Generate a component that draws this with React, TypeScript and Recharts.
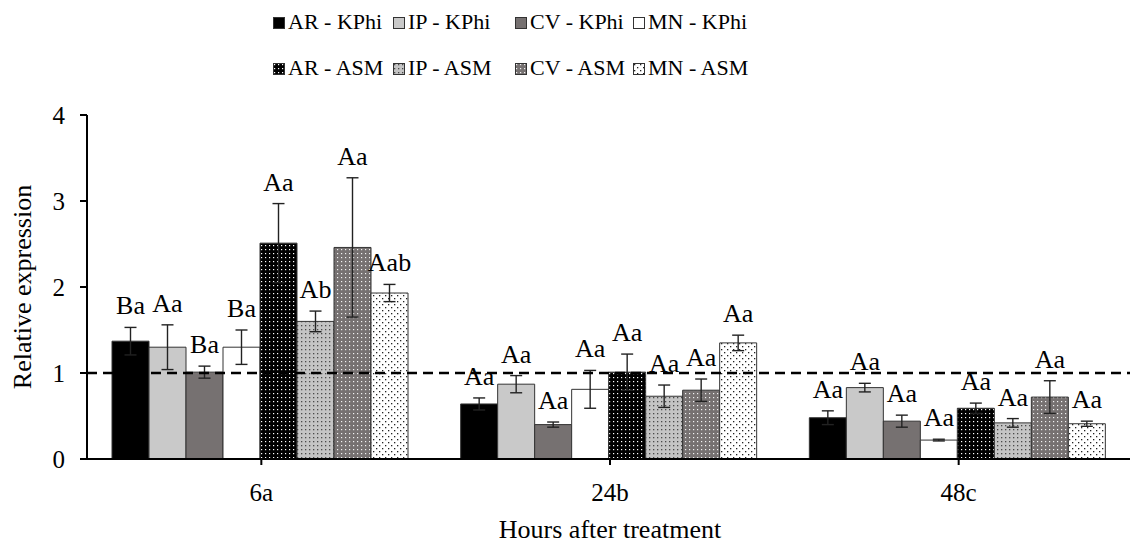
import React from 'react';
import { BarChart, Bar, XAxis, YAxis, ErrorBar, ReferenceLine, LabelList } from 'recharts';

// Sampling times after treatment
const hours = ['6a', '24b', '48c'];

// Mean relative expression and standard error per treatment
const arKphi = [1.37, 0.64, 0.48];
const arKphiErr = [0.16, 0.07, 0.08];
const ipKphi = [1.3, 0.87, 0.83];
const ipKphiErr = [0.26, 0.1, 0.05];
const cvKphi = [1.01, 0.4, 0.44];
const cvKphiErr = [0.07, 0.03, 0.07];
const mnKphi = [1.3, 0.81, 0.22];
const mnKphiErr = [0.2, 0.22, 0.01];
const arAsm = [2.51, 1.01, 0.59];
const arAsmErr = [0.46, 0.21, 0.06];
const ipAsm = [1.6, 0.73, 0.42];
const ipAsmErr = [0.12, 0.13, 0.05];
const cvAsm = [2.46, 0.8, 0.72];
const cvAsmErr = [0.81, 0.13, 0.19];
const mnAsm = [1.93, 1.35, 0.41];
const mnAsmErr = [0.1, 0.09, 0.03];

// Significance letters above each bar
const arKphiLetters = ['Ba', 'Aa', 'Aa'];
const ipKphiLetters = ['Aa', 'Aa', 'Aa'];
const cvKphiLetters = ['Ba', 'Aa', 'Aa'];
const mnKphiLetters = ['Ba', 'Aa', 'Aa'];
const arAsmLetters = ['Aa', 'Aa', 'Aa'];
const ipAsmLetters = ['Ab', 'Aa', 'Aa'];
const cvAsmLetters = ['Aa', 'Aa', 'Aa'];
const mnAsmLetters = ['Aab', 'Aa', 'Aa'];

const yTicks = [0, 1, 2, 3, 4];

const FONT = '"Liberation Serif", "Times New Roman", serif';

type Series = {
  key: string;
  name: string;
  values: number[];
  errors: number[];
  letters: string[];
  fill: string;
};

const series: Series[] = [
  { key: 'arKphi', name: 'AR - KPhi', values: arKphi, errors: arKphiErr, letters: arKphiLetters, fill: '#000000' },
  { key: 'ipKphi', name: 'IP - KPhi', values: ipKphi, errors: ipKphiErr, letters: ipKphiLetters, fill: '#c9c9c9' },
  { key: 'cvKphi', name: 'CV - KPhi', values: cvKphi, errors: cvKphiErr, letters: cvKphiLetters, fill: '#767171' },
  { key: 'mnKphi', name: 'MN - KPhi', values: mnKphi, errors: mnKphiErr, letters: mnKphiLetters, fill: '#ffffff' },
  { key: 'arAsm', name: 'AR - ASM', values: arAsm, errors: arAsmErr, letters: arAsmLetters, fill: 'url(#dotsAR)' },
  { key: 'ipAsm', name: 'IP - ASM', values: ipAsm, errors: ipAsmErr, letters: ipAsmLetters, fill: 'url(#dotsIP)' },
  { key: 'cvAsm', name: 'CV - ASM', values: cvAsm, errors: cvAsmErr, letters: cvAsmLetters, fill: 'url(#dotsCV)' },
  { key: 'mnAsm', name: 'MN - ASM', values: mnAsm, errors: mnAsmErr, letters: mnAsmLetters, fill: 'url(#dotsMN)' },
];

const data = hours.map((hour, i) => {
  const row: Record<string, string | number> = { hour };
  series.forEach((s) => {
    row[s.key] = s.values[i];
    row[`${s.key}Err`] = s.errors[i];
    row[`${s.key}Letter`] = s.letters[i];
  });
  return row;
});

// Letter placed just above the upper whisker of the bar's error bar
const letterLabel = (s: Series) => (props: any) => {
  const vb = props.viewBox ?? props;
  const idx = props.index ?? 0;
  const v = s.values[idx];
  const e = s.errors[idx];
  const pxPerUnit = vb.height / v;
  const whiskerTop = vb.y - e * pxPerUnit;
  return (
    <text
      x={vb.x + vb.width / 2}
      y={whiskerTop - 13}
      textAnchor="middle"
      fontSize={26}
      fontFamily={FONT}
      fill="#000"
    >
      {props.value}
    </text>
  );
};

const PatternDefs = () => (
  <defs>
    <pattern id="dotsAR" width="4" height="4" patternUnits="userSpaceOnUse">
      <rect width="4" height="4" fill="#000" />
      <rect x="1" y="1" width="1.2" height="1.2" fill="#ffffff" />
    </pattern>
    <pattern id="dotsIP" width="4" height="4" patternUnits="userSpaceOnUse">
      <rect width="4" height="4" fill="#c4c4c4" />
      <rect x="1" y="1" width="1.3" height="1.3" fill="#4a4a4a" />
    </pattern>
    <pattern id="dotsCV" width="4" height="4" patternUnits="userSpaceOnUse">
      <rect width="4" height="4" fill="#767171" />
      <rect x="1" y="1" width="1.2" height="1.2" fill="#f2f2f2" />
    </pattern>
    <pattern id="dotsMN" width="6" height="6" patternUnits="userSpaceOnUse">
      <rect width="6" height="6" fill="#ffffff" />
      <rect x="1" y="1" width="1.3" height="1.3" fill="#222" />
      <rect x="4" y="4" width="1.3" height="1.3" fill="#222" />
    </pattern>
  </defs>
);

const LegendBlock = () => {
  const cols = [273, 393, 515, 633];
  const rows = [22, 68];
  return (
    <div style={{ position: 'absolute', left: 0, top: 0, width: 1130, height: 100, pointerEvents: 'none' }}>
      {series.map((s, i) => {
        const col = i % 4;
        const row = Math.floor(i / 4);
        return (
          <div
            key={s.key}
            style={{
              position: 'absolute',
              left: cols[col],
              top: rows[row] - 14,
              height: 28,
              display: 'flex',
              alignItems: 'center',
              fontFamily: FONT,
              fontSize: 22,
              color: '#000',
              whiteSpace: 'nowrap',
            }}
          >
            <svg width={12} height={12} style={{ marginRight: 3, marginTop: 2 }}>
              <rect x={0.5} y={0.5} width={11} height={11} fill={s.fill} stroke="#333" strokeWidth={1} />
            </svg>
            <span>{s.name}</span>
          </div>
        );
      })}
    </div>
  );
};

export default function App() {
  return (
    <div
      style={{
        position: 'absolute',
        left: 0,
        top: 0,
        width: 1130,
        height: 545,
        overflow: 'hidden',
        background: '#fff',
      }}
    >
      <LegendBlock />
      <BarChart
        width={1140}
        height={545}
        data={data}
        margin={{ top: 115, right: 7, bottom: 56, left: 27 }}
        barCategoryGap={25}
        barGap={0}
      >
        <PatternDefs />
        <XAxis
          dataKey="hour"
          height={30}
          axisLine={{ stroke: '#000', strokeWidth: 2 }}
          tickLine={{ stroke: '#000', strokeWidth: 2 }}
          tickSize={6}
          tickMargin={18}
          tick={{ fill: '#000', fontSize: 25, fontFamily: FONT }}
          label={{
            value: 'Hours after treatment',
            position: 'bottom',
            offset: 31,
            style: { fill: '#000', fontSize: 26, fontFamily: FONT },
          }}
        />
        <YAxis
          width={60}
          domain={[0, 4]}
          ticks={yTicks}
          interval={0}
          axisLine={{ stroke: '#000', strokeWidth: 2 }}
          tickLine={{ stroke: '#000', strokeWidth: 2 }}
          tickSize={7}
          tickMargin={15}
          tick={{ fill: '#000', fontSize: 25, fontFamily: FONT }}
          label={{
            content: (p: any) => {
              const vb = p.viewBox ?? { x: 27, y: 115, width: 60, height: 344 };
              const cx = 22;
              const cy = vb.y + vb.height / 2;
              return (
                <text
                  x={cx}
                  y={cy}
                  transform={`rotate(-90, ${cx}, ${cy})`}
                  textAnchor="middle"
                  dominantBaseline="central"
                  fontSize={26}
                  fontFamily={FONT}
                  fill="#000"
                >
                  Relative expression
                </text>
              );
            },
          }}
        />
        {series.map((s) => (
          <Bar
            key={s.key}
            dataKey={s.key}
            name={s.name}
            fill={s.fill}
            stroke="#333"
            strokeWidth={1}
            isAnimationActive={false}
          >
            <ErrorBar dataKey={`${s.key}Err`} width={6} stroke="#222" strokeWidth={1.4} direction="y" />
            <LabelList dataKey={`${s.key}Letter`} content={letterLabel(s)} />
          </Bar>
        ))}
        <ReferenceLine y={1} stroke="#000" strokeWidth={2.5} strokeDasharray="10 6" />
      </BarChart>
    </div>
  );
}
